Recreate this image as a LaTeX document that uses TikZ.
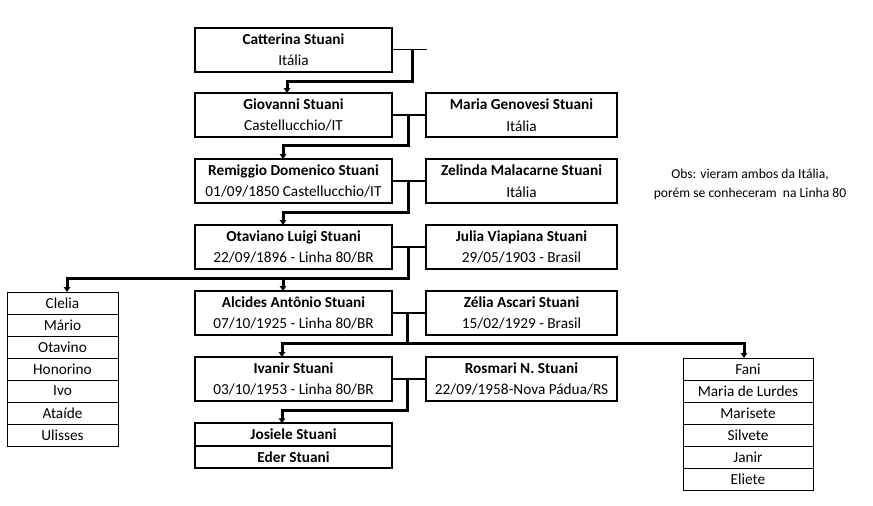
\documentclass[tikz,border=0pt]{standalone}
\usepackage{fontspec}
\setmainfont{Carlito}
\usetikzlibrary{arrows.meta}
\tikzset{
  person/.style={draw, line width=2pt, minimum width=197pt, minimum height=44pt, inner sep=0pt, outer sep=0pt, align=center, font=\fontsize{15.3}{21.5}\selectfont},
  spouse/.style={person, minimum width=191pt},
  kid/.style={draw, line width=1.8pt, minimum width=197pt, minimum height=22.5pt, inner sep=0pt, outer sep=0pt, font=\bfseries\fontsize{15.3}{17}\selectfont},
  cellL/.style={draw, line width=0.9pt, minimum width=111pt, minimum height=22pt, inner sep=0pt, outer sep=0pt, font=\fontsize{15.3}{17}\selectfont},
  cellR/.style={cellL, minimum width=130pt},
  spl/.style={line width=1.6pt},
  thk/.style={line width=3pt},
  tip/.tip={Triangle[length=5pt,width=6.5pt]},
  note/.style={align=center, font=\fontsize{13.6}{19}\selectfont}
}
\begin{document}
\begin{tikzpicture}[x=1pt,y=-1pt]
\useasboundingbox (0,0) rectangle (873,506);
% main column
\node[person] (cat) at (293.5,49.5) {\textbf{Catterina Stuani}\\Itália};
\node[person] (gio) at (293.5,115) {\textbf{Giovanni Stuani}\\Castellucchio/IT};
\node[person] (rem) at (293.5,181) {\textbf{Remiggio Domenico Stuani}\\01/09/1850 Castellucchio/IT};
\node[person] (ota) at (293.5,247) {\textbf{Otaviano Luigi Stuani}\\22/09/1896 - Linha 80/BR};
\node[person] (alc) at (293.5,313) {\textbf{Alcides Antônio Stuani}\\07/10/1925 - Linha 80/BR};
\node[person] (iva) at (293.5,379) {\textbf{Ivanir Stuani}\\03/10/1953 - Linha 80/BR};
\node[kid] (jos) at (293.5,434.5) {Josiele Stuani};
\node[kid, anchor=north] (ede) at (jos.south) {Eder Stuani};
% spouses
\node[spouse] (mar) at (521.5,115) {\textbf{Maria Genovesi Stuani}\\Itália};
\node[spouse] (zel) at (521.5,181) {\textbf{Zelinda Malacarne Stuani}\\Itália};
\node[spouse] (jul) at (521.5,247) {\textbf{Julia Viapiana Stuani}\\29/05/1903 - Brasil};
\node[spouse] (zeli) at (521.5,313) {\textbf{Zélia Ascari Stuani}\\15/02/1929 - Brasil};
\node[spouse] (ros) at (521.5,379) {\textbf{Rosmari N. Stuani}\\22/09/1958-Nova Pádua/RS};
% note
\node[note] (obs) at (750,184) {Obs: vieram ambos da Itália,\\porém se conheceram\ \ na Linha 80};
% left list
\node[cellL] (l1) at (62.5,303) {Clelia};
\node[cellL, anchor=north] (l2) at (l1.south) {Mário};
\node[cellL, anchor=north] (l3) at (l2.south) {Otavino};
\node[cellL, anchor=north] (l4) at (l3.south) {Honorino};
\node[cellL, anchor=north] (l5) at (l4.south) {Ivo};
\node[cellL, anchor=north] (l6) at (l5.south) {Ataíde};
\node[cellL, anchor=north] (l7) at (l6.south) {Ulisses};
% right list
\node[cellR] (r1) at (748,369) {Fani};
\node[cellR, anchor=north] (r2) at (r1.south) {Maria de Lurdes};
\node[cellR, anchor=north] (r3) at (r2.south) {Marisete};
\node[cellR, anchor=north] (r4) at (r3.south) {Silvete};
\node[cellR, anchor=north] (r5) at (r4.south) {Janir};
\node[cellR, anchor=north] (r6) at (r5.south) {Eliete};
% junction coordinates
\coordinate (cend) at (427,49.5);
\coordinate (c1) at (412,49.5);
\coordinate (c2) at (287,81);
\coordinate (g1) at (408,115);
\coordinate (g2) at (283,145);
\coordinate (m1) at (408,181);
\coordinate (m2) at (283,212);
\coordinate (o1) at (408,247);
\coordinate (o2) at (283,278);
\coordinate (o3) at (67,278);
\coordinate (a1) at (407,313);
\coordinate (a2) at (282,343);
\coordinate (a3) at (744,343);
\coordinate (i1) at (407,379);
\coordinate (i2) at (282,410);
% couple lines
\draw[spl] (cat.east) -- (cend);
\draw[spl] (gio.east) -- (mar.west);
\draw[spl] (rem.east) -- (zel.west);
\draw[spl] (ota.east) -- (jul.west);
\draw[spl] (alc.east) -- (zeli.west);
\draw[spl] (iva.east) -- (ros.west);
% descent lines
\draw[thk,-tip] (c1) |- (c2) -- (c2 |- gio.north);
\draw[thk,-tip] (g1) |- (g2) -- (g2 |- rem.north);
\draw[thk,-tip] (m1) |- (m2) -- (m2 |- ota.north);
\draw[thk,-tip] (o1) |- (o3) -- (o3 |- l1.north);
\draw[thk,-tip] (o2) -- (o2 |- alc.north);
\draw[thk] (a1) -- (a1 |- a2);
\draw[thk,tip-tip] (a2 |- iva.north) -- (a2) -- (a3) -- (a3 |- r1.north);
\draw[thk,-tip] (i1) |- (i2) -- (i2 |- jos.north);
\end{tikzpicture}
\end{document}
